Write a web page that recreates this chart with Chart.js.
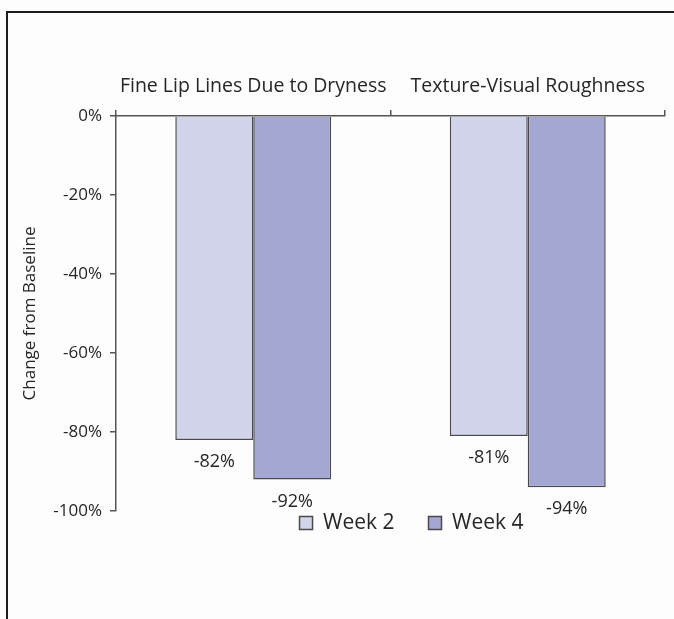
<!DOCTYPE html>
<html>
<head>
<meta charset="utf-8">
<script src="https://cdn.jsdelivr.net/npm/chart.js@4/dist/chart.umd.min.js"></script>
<style>
  html, body { margin: 0; padding: 0; background: #ffffff; }
  #wrap { position: relative; width: 674px; height: 619px; overflow: hidden; background: #fdfdfd; }
  #frame { position: absolute; left: 6px; top: 11px; width: 700px; height: 700px;
           border-top: 2.5px solid #1e1e1e; border-left: 2.5px solid #1e1e1e; box-sizing: border-box; }
  canvas { position: absolute; left: 0; top: 0; }
</style>
</head>
<body>
<div id="wrap">
  <div id="frame"></div>
  <canvas id="chart" width="674" height="619"></canvas>
</div>
<script>
// Attributes and percentage change from baseline at each visit
const categories = ['Fine Lip Lines Due to Dryness', 'Texture-Visual Roughness'];
const seriesNames = ['Week 2', 'Week 4'];
const week2 = [-82, -81];
const week4 = [-92, -94];
const yTicks = [0, -20, -40, -60, -80, -100];

const TEXT = '#262626';
const AXIS = '#555555';
const FONT = '"Open Sans", Lato, sans-serif';

Chart.defaults.font.family = FONT;
Chart.defaults.color = TEXT;

// Prints each bar's value just below the end of the bar
const valueLabels = {
  id: 'valueLabels',
  afterDatasetsDraw(chart) {
    const ctx = chart.ctx;
    ctx.save();
    ctx.font = '18px ' + FONT;
    ctx.fillStyle = TEXT;
    ctx.textAlign = 'center';
    ctx.textBaseline = 'middle';
    chart.data.datasets.forEach((ds, di) => {
      const meta = chart.getDatasetMeta(di);
      meta.data.forEach((bar, i) => {
        ctx.fillText(ds.data[i] + '%', bar.x, bar.y + 22);
      });
    });
    ctx.restore();
  }
};

// Lifts the legend up so it sits beside the lower ends of the bars
const legendPlacement = {
  id: 'legendPlacement',
  afterLayout(chart) {
    const lg = chart.legend;
    if (!lg) return;
    const dy = -32.5, dx = 21;
    lg.top += dy; lg.bottom += dy;
    lg.left += dx; lg.right += dx;
  }
};

new Chart(document.getElementById('chart'), {
  type: 'bar',
  data: {
    labels: categories,
    datasets: [
      { label: seriesNames[0], data: week2, backgroundColor: '#d1d4ea',
        borderColor: '#4a4a4a', borderWidth: 1.5 },
      { label: seriesNames[1], data: week4, backgroundColor: '#a3a7d2',
        borderColor: '#4a4a4a', borderWidth: 1.5 }
    ]
  },
  options: {
    responsive: false,
    animation: false,
    layout: { padding: { left: 0, right: 9, top: 0, bottom: 43 } },
    datasets: { bar: { categoryPercentage: 0.568, barPercentage: 1.0 } },
    plugins: {
      legend: {
        position: 'bottom',
        fullSize: false,
        labels: {
          boxWidth: 13, boxHeight: 13, padding: 34,
          font: { size: 21 }, color: TEXT
        }
      },
      tooltip: { enabled: false }
    },
    scales: {
      x: {
        position: 'top',
        afterFit(scale) { scale.height = 116; },
        grid: { drawOnChartArea: false, drawTicks: true, tickLength: 6, color: AXIS, lineWidth: 1.5 },
        border: { color: AXIS, width: 1.5 },
        ticks: { font: { size: 19.5 }, color: TEXT, padding: 12, maxRotation: 0, autoSkip: false }
      },
      y: {
        min: -100, max: 0,
        afterFit(scale) { scale.width = 116; },
        afterBuildTicks(scale) { scale.ticks = yTicks.map(v => ({ value: v })); },
        grid: { drawOnChartArea: false, drawTicks: true, tickLength: 6, color: AXIS, lineWidth: 1.5 },
        border: { color: AXIS, width: 1.5 },
        ticks: { font: { size: 17 }, color: TEXT, padding: 8, callback: v => v + '%' },
        title: { display: true, text: 'Change from Baseline', font: { size: 17 }, color: TEXT,
                 padding: { top: 20, bottom: 0 } }
      }
    }
  },
  plugins: [valueLabels, legendPlacement]
});
</script>
</body>
</html>
